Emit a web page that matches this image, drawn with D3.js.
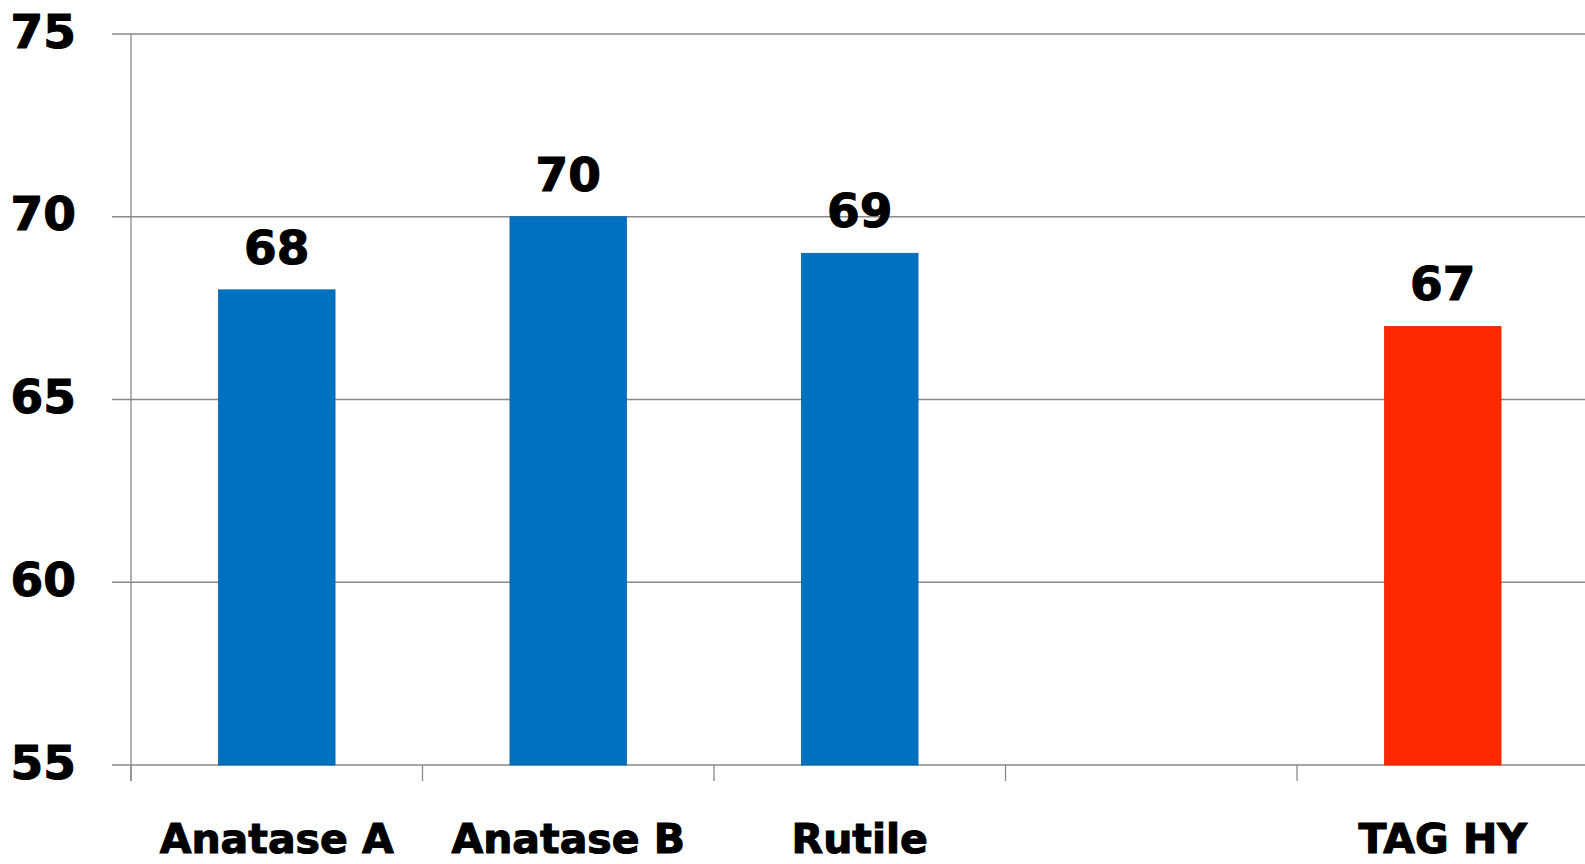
<!DOCTYPE html>
<html>
<head>
<meta charset="utf-8">
<script src="https://cdn.jsdelivr.net/npm/d3@7"></script>
<style>
  html, body { margin: 0; padding: 0; background: #ffffff; }
  svg { display: block; }
  text { font-family: "DejaVu Sans", "Liberation Sans", Arial, sans-serif; font-weight: bold; fill: #000; stroke: #000; stroke-width: 1.1px; }
</style>
</head>
<body>
<svg id="chart" width="1585" height="864"></svg>
<script>
// ---- data ----
const categories = ["Anatase A", "Anatase B", "Rutile", "", "TAG HY"];
const values = [68, 70, 69, null, 67];
const barColors = ["#0070C0", "#0070C0", "#0070C0", "#0070C0", "#FF2A00"];
const yTicks = [55, 60, 65, 70, 75];

// ---- layout ----
const W = 1585, H = 864;
const plot = { left: 131, right: 1588.5, top: 34, bottom: 765 };

const svg = d3.select("#chart");

const x = d3.scaleBand()
  .domain(categories)
  .range([plot.left, plot.right])
  .paddingInner(0.6)
  .paddingOuter(0.3);

// band boundaries (category starts) use a zero-padding band scale
const xEdge = d3.scaleBand().domain(categories).range([plot.left, plot.right]).padding(0);

const y = d3.scaleLinear().domain([55, 75]).range([plot.bottom, plot.top]);

const grid = "#898989";

// gridlines (extend left as tick marks)
svg.append("g").selectAll("line")
  .data(yTicks)
  .join("line")
  .attr("x1", plot.left - 19)
  .attr("x2", plot.right)
  .attr("y1", d => y(d))
  .attr("y2", d => y(d))
  .attr("stroke", grid)
  .attr("stroke-width", 1.3);

// y axis labels
const yAxis = d3.axisLeft(y).tickValues(yTicks).tickSize(19).tickPadding(36).tickFormat(d3.format("d"));
const gy = svg.append("g").attr("transform", `translate(${plot.left},0)`).call(yAxis);
gy.select(".domain").remove();
gy.selectAll(".tick line").remove();
gy.selectAll(".tick text")
  .attr("dy", "0.28em")
  .style("font-size", "47px")
  .style("font-family", "'DejaVu Sans', sans-serif")
  .style("font-weight", "bold")
  .attr("fill", "#000");

// y axis line
svg.append("line")
  .attr("x1", plot.left).attr("x2", plot.left)
  .attr("y1", y(75)).attr("y2", y(55) + 16)
  .attr("stroke", grid).attr("stroke-width", 1.3);

// x category boundary ticks
svg.append("g").selectAll("line")
  .data(categories)
  .join("line")
  .attr("x1", d => xEdge(d))
  .attr("x2", d => xEdge(d))
  .attr("y1", plot.bottom)
  .attr("y2", plot.bottom + 16)
  .attr("stroke", grid)
  .attr("stroke-width", 1.3);

// bars
const barData = categories.map((c, i) => ({ c, v: values[i], color: barColors[i] })).filter(d => d.v != null);

svg.append("g").selectAll("rect")
  .data(barData)
  .join("rect")
  .attr("x", d => x(d.c))
  .attr("width", x.bandwidth())
  .attr("y", d => y(d.v))
  .attr("height", d => y(55) - y(d.v))
  .attr("fill", d => d.color)
  .attr("stroke", d => d3.color(d.color).darker(0.3))
  .attr("stroke-width", 0.8);

// value labels
svg.append("g").selectAll("text")
  .data(barData)
  .join("text")
  .attr("x", d => x(d.c) + x.bandwidth() / 2)
  .attr("y", d => y(d.v) - 26)
  .attr("text-anchor", "middle")
  .style("font-size", "47px")
  .text(d => d.v);

// category labels
svg.append("g").selectAll("text")
  .data(categories.filter(c => c !== ""))
  .join("text")
  .attr("x", d => x(d) + x.bandwidth() / 2)
  .attr("y", 853)
  .attr("text-anchor", "middle")
  .style("font-size", "41px")
  .text(d => d);
</script>
</body>
</html>
